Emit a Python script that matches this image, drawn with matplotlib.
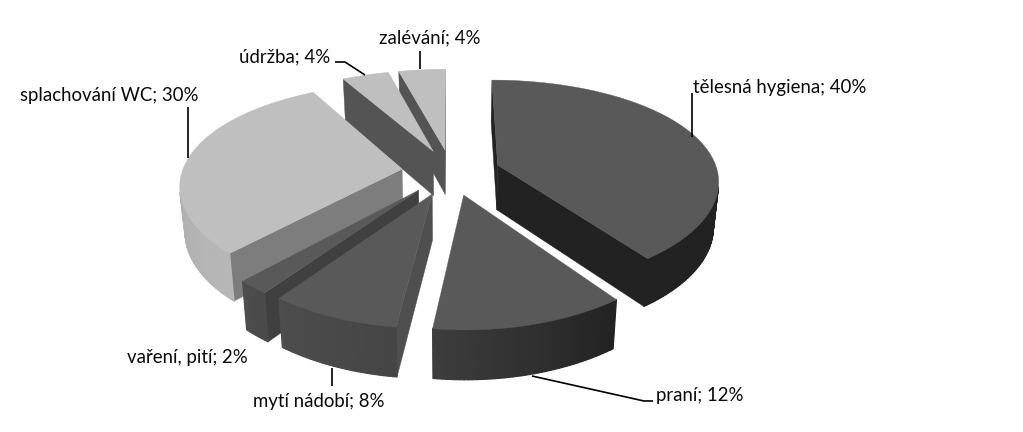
import numpy as np
import matplotlib
matplotlib.use("Agg")
import matplotlib.pyplot as plt
from matplotlib.patches import Polygon

categories = ["tělesná hygiena", "praní", "mytí nádobí", "vaření, pití",
              "splachování WC", "údržba", "zalévání"]
values = [40, 12, 8, 2, 30, 4, 4]

top_gray = [0.35, 0.35, 0.35, 0.35, 0.75, 0.75, 0.75]
rim_gray = [(0.135, 0.135), (0.135, 0.24), (0.27, 0.30), (0.29, 0.30),
            (0.72, 0.62), (0.33, 0.33), (0.33, 0.33)]
cut_gray = [0.135, 0.135, 0.31, 0.25, 0.49, 0.33, 0.33]
draw_order = [6, 5, 0, 4, 3, 2, 1]

label_pos = [(693, 87, "left"), (656, 396, "left"), (253, 401, "left"),
             (127, 357, "left"), (20, 96, "left"), (239, 57, "left"), (379, 38, "left")]
leaders = [[(692, 93), (692, 137)],
           [(653, 401), (644, 401), (532, 376)],
           [(332, 368), (332, 386)],
           [],
           [(188, 107), (188, 158)],
           [(335, 62), (345, 62), (365, 75)],
           [(420, 51), (420, 69)]]

CX, CY = 451.0, 172.0
RX, RY = 220.0, 102.0
KX, KY, KZ = 0.14, 0.175, 0.08
HEIGHT = 45.0
SHRINK = 0.98
EXPLODE = 0.225


def project(X, Y, bottom=False):
    x = CX + X * RX / (1 - KX * Y)
    y = CY + Y * RY / (1 - KY * Y)
    if bottom:
        x = CX + (x - CX) * SHRINK
        y = y + HEIGHT / (1 - KZ * Y)
    return np.array([x, y])


def signed_area(quad):
    q = np.asarray(quad)
    return 0.5 * np.sum(q[:, 0] * np.roll(q[:, 1], -1) - np.roll(q[:, 0], -1) * q[:, 1])


def gray(v):
    return (v, v, v)


plt.rcParams["font.family"] = ["Lato", "DejaVu Sans"]
fig = plt.figure(figsize=(10.23, 4.32), dpi=100, facecolor="white")
ax = fig.add_axes([0, 0, 1, 1])
ax.set_xlim(0, 1023)
ax.set_ylim(432, 0)
ax.axis("off")

total = sum(values)
edges = np.concatenate([[0], np.cumsum(values)]) / total * 2 * np.pi

for i in draw_order:
    a0, a1 = edges[i], edges[i + 1]
    mid = (a0 + a1) / 2
    ox, oy = EXPLODE * np.sin(mid), -EXPLODE * np.cos(mid)
    th = np.linspace(a0, a1, max(8, int((a1 - a0) * 60)))
    rimX, rimY = ox + np.sin(th), oy - np.cos(th)
    top = [project(X, Y) for X, Y in zip(rimX, rimY)]
    bot = [project(X, Y, True) for X, Y in zip(rimX, rimY)]
    apex_t, apex_b = project(ox, oy), project(ox, oy, True)
    base = draw_order.index(i) * 3

    # flat cut faces, only those turned towards the viewer
    for quad in ([apex_t, top[0], bot[0], apex_b], [top[-1], apex_t, apex_b, bot[-1]]):
        if signed_area(quad) < 0:
            ax.add_patch(Polygon(quad, closed=True, fc=gray(cut_gray[i]),
                                 ec=gray(cut_gray[i]), lw=0.3, zorder=2 + base))
    # curved outer wall
    g0, g1 = rim_gray[i]
    for k in range(len(th) - 1):
        quad = [top[k], top[k + 1], bot[k + 1], bot[k]]
        if signed_area(quad) < 0:
            v = g0 + (g1 - g0) * k / max(1, len(th) - 2)
            ax.add_patch(Polygon(quad, closed=True, fc=gray(v), ec=gray(v), lw=0.9,
                                 joinstyle="round", zorder=3 + base))
    # top face
    ax.add_patch(Polygon([apex_t] + top, closed=True, fc=gray(top_gray[i]),
                         ec=gray(top_gray[i]), lw=0.3, zorder=4 + base))

for i, name in enumerate(categories):
    x, y, ha = label_pos[i]
    ax.text(x, y, f"{name}; {values[i]}%", ha=ha, va="center", fontsize=13.4,
            color="#0a0a0a", zorder=60)
    if leaders[i]:
        xs, ys = zip(*leaders[i])
        ax.plot(xs, ys, color="black", lw=1.2, solid_capstyle="butt", zorder=59)

fig.savefig("out.png", dpi=100, facecolor="white")
